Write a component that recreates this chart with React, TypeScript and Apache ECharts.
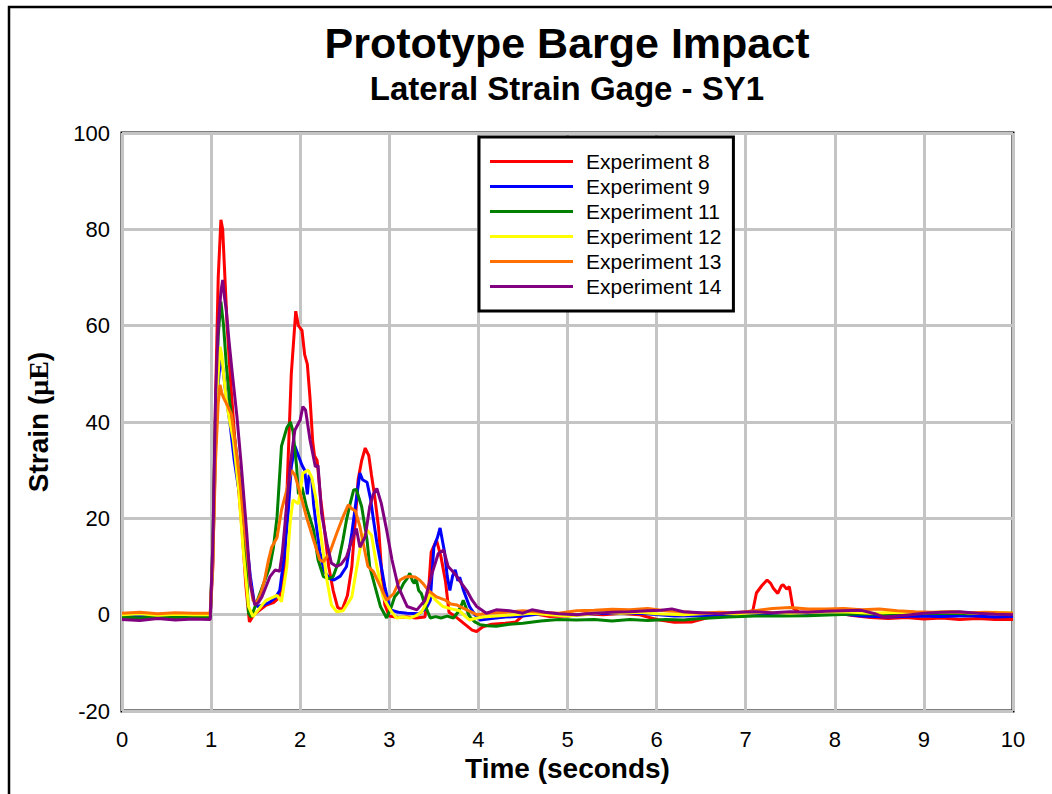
import React, { useEffect, useRef } from "react";
import * as echarts from "echarts";

const seriesNames = ["Experiment 8", "Experiment 9", "Experiment 11", "Experiment 12", "Experiment 13", "Experiment 14"];
const seriesColors = ["#FF0000", "#0000FF", "#008000", "#FFFF00", "#FF7000", "#800080"];

const exp8: number[][] = [[0,-0.3],[0.2,-0.6],[0.4,-0.2],[0.6,-0.5],[0.8,-0.3],[0.99,-0.4],[1.02,10],[1.05,45],[1.08,70],[1.11,82],[1.13,80],[1.15,72],[1.18,60],[1.22,48],[1.26,38],[1.3,28],[1.35,17],[1.39,6],[1.43,-1.5],[1.48,0],[1.55,1],[1.62,2],[1.7,2.5],[1.76,3.5],[1.82,8],[1.86,30],[1.9,50],[1.95,63],[1.98,60],[2.02,59],[2.05,54],[2.08,52],[2.11,45],[2.14,36],[2.16,33],[2.19,32],[2.23,24],[2.27,18],[2.32,10],[2.37,5],[2.42,1.5],[2.47,1],[2.53,4],[2.58,10],[2.62,20],[2.65,28],[2.69,32],[2.73,34.6],[2.77,33],[2.8,29],[2.84,24],[2.88,18],[2.91,10],[2.95,2],[3.0,-0.3],[3.1,-0.6],[3.2,-0.5],[3.3,-0.7],[3.4,-0.5],[3.44,5],[3.47,13],[3.53,15.5],[3.58,12],[3.63,7],[3.67,0.5],[3.75,-0.5],[3.85,-2],[3.93,-3.2],[3.98,-3.5],[4.05,-2.5],[4.15,-2],[4.3,-1.8],[4.42,-1.5],[4.5,-0.2],[4.6,0.3],[4.8,-0.4],[5.0,-0.3],[5.2,0.2],[5.4,0],[5.6,0.3],[5.8,0],[6.0,-1],[6.2,-1.6],[6.4,-1.5],[6.6,-0.5],[6.8,0],[7.0,0.4],[7.08,0.8],[7.12,4.5],[7.18,6],[7.24,7.2],[7.28,6.5],[7.31,5.5],[7.36,4.4],[7.4,6],[7.42,6.2],[7.46,5.3],[7.49,5.8],[7.53,1.4],[7.6,0.5],[7.8,0.6],[8.0,0.4],[8.2,-0.2],[8.4,-0.6],[8.6,-0.8],[8.8,-0.6],[9.0,-0.9],[9.2,-0.7],[9.4,-1],[9.6,-0.8],[9.8,-1],[10,-1]];

const exp9: number[][] = [[0,-0.5],[0.2,-0.3],[0.4,-0.6],[0.6,-0.4],[0.8,-0.5],[0.99,-0.4],[1.02,12],[1.05,35],[1.08,48],[1.11,54],[1.14,50],[1.17,45],[1.21,40],[1.26,32],[1.31,26],[1.36,20],[1.4,15],[1.44,8],[1.48,3],[1.52,1.7],[1.58,2],[1.65,2.5],[1.72,3.5],[1.77,5],[1.82,12],[1.86,20],[1.9,30.7],[1.94,35],[1.98,33],[2.02,31],[2.05,30],[2.08,25],[2.1,29],[2.13,28],[2.15,23],[2.17,20],[2.22,13],[2.27,9],[2.33,7.5],[2.38,7.2],[2.45,8],[2.52,10],[2.58,17],[2.63,24],[2.67,29.4],[2.7,28],[2.75,27.5],[2.79,24],[2.82,20],[2.86,15],[2.9,11],[2.95,5.8],[3.01,1],[3.1,0.5],[3.2,0.3],[3.34,0.2],[3.42,1.5],[3.46,3],[3.5,14],[3.54,16],[3.57,18],[3.6,15],[3.62,13],[3.65,8],[3.68,5],[3.71,8],[3.74,9.3],[3.77,7],[3.79,7.8],[3.83,5.2],[3.9,1.7],[3.96,0],[4.02,-1.1],[4.15,-0.8],[4.3,-0.5],[4.5,-0.3],[4.7,0.2],[5.0,-0.2],[5.3,0.2],[5.6,0.4],[5.9,0.2],[6.2,-0.3],[6.5,-0.2],[6.8,0],[7.0,0.2],[7.3,0],[7.6,0.2],[8.0,0.3],[8.3,-0.3],[8.6,-0.5],[8.9,-0.3],[9.2,-0.4],[9.5,-0.2],[9.8,-0.5],[10,-0.4]];

const exp11: number[][] = [[0,-0.5],[0.2,-0.7],[0.4,-0.4],[0.6,-0.6],[0.8,-0.4],[0.99,-0.5],[1.02,15],[1.05,42],[1.08,58],[1.11,65],[1.14,60],[1.17,52],[1.21,44],[1.26,37],[1.31,30],[1.36,25],[1.39,12],[1.42,0.3],[1.45,-0.5],[1.5,2],[1.55,4.5],[1.6,7],[1.66,10],[1.7,14],[1.74,20.3],[1.79,35],[1.85,38.8],[1.89,40],[1.92,38],[1.96,30.7],[1.98,25],[2.02,26.5],[2.07,22.4],[2.15,17.6],[2.2,11.4],[2.26,7.9],[2.32,7.5],[2.37,7.9],[2.43,11],[2.48,15.5],[2.52,19.7],[2.56,23],[2.6,25.9],[2.63,26],[2.69,22.4],[2.75,15.5],[2.78,10],[2.84,5.8],[2.9,1.7],[2.97,-0.7],[3.02,1.5],[3.06,3.7],[3.12,5],[3.16,6.5],[3.2,7.5],[3.23,8.6],[3.26,7],[3.28,6.5],[3.3,7.5],[3.33,5],[3.36,4.4],[3.4,2],[3.46,-0.7],[3.52,-0.4],[3.58,-0.7],[3.65,-0.3],[3.72,-0.7],[3.77,0.5],[3.81,2],[3.83,3],[3.87,1],[3.9,-0.4],[3.96,-1.5],[4.02,-2.1],[4.1,-2.3],[4.2,-2.4],[4.35,-2],[4.5,-1.8],[4.7,-1.3],[4.9,-1],[5.1,-1.1],[5.3,-1],[5.5,-1.3],[5.7,-1],[5.9,-1.2],[6.1,-1],[6.3,-1.1],[6.5,-0.8],[6.8,-0.5],[7.1,-0.3],[7.4,-0.3],[7.7,-0.2],[8.0,0],[8.3,0.2],[8.6,0],[8.9,0.2],[9.2,0.3],[9.5,0.2],[9.8,0.4],[10,0.3]];

const exp12: number[][] = [[0,0],[0.2,0.2],[0.4,-0.1],[0.6,0.1],[0.8,0],[0.99,0],[1.02,12],[1.05,35],[1.08,50],[1.1,55.6],[1.12,54],[1.14,50],[1.17,44.6],[1.21,40],[1.25,36.3],[1.31,25.9],[1.36,13.4],[1.42,1.7],[1.47,-0.4],[1.53,1],[1.58,2.2],[1.62,3],[1.68,3.5],[1.74,4],[1.79,2.7],[1.85,10],[1.89,19.7],[1.92,23.8],[1.98,23],[2.03,29.4],[2.09,30],[2.13,28.5],[2.18,23.8],[2.24,15.5],[2.3,7.2],[2.35,2],[2.41,0.6],[2.48,0.8],[2.54,2.5],[2.58,3.7],[2.63,9.3],[2.69,15.5],[2.75,17.6],[2.8,16.5],[2.86,10],[2.93,3.7],[3.01,1],[3.08,-0.7],[3.15,-0.5],[3.23,-0.7],[3.3,-0.2],[3.36,0.5],[3.42,2.5],[3.46,4.4],[3.52,3],[3.6,1.7],[3.7,1.2],[3.79,0.8],[3.85,-0.3],[3.9,-1.1],[3.96,-0.8],[4.05,-0.5],[4.2,-0.3],[4.4,0],[4.6,0.3],[4.8,0],[5.0,-0.3],[5.2,0],[5.4,0.5],[5.6,0.3],[5.8,0.5],[6.0,0.2],[6.3,0],[6.6,0.3],[6.9,0.2],[7.2,0.5],[7.5,0.3],[7.8,0.5],[8.1,0.6],[8.4,0.3],[8.7,0.5],[9.0,0.4],[9.3,0.6],[9.6,0.3],[9.8,0.5],[10,0.3]];

const exp13: number[][] = [[0,0.3],[0.2,0.5],[0.4,0.2],[0.6,0.4],[0.8,0.3],[0.99,0.3],[1.02,12],[1.05,32],[1.08,44],[1.1,47.7],[1.12,46],[1.14,45],[1.19,43.2],[1.23,41.5],[1.29,32.8],[1.33,26.5],[1.38,17],[1.44,6.5],[1.47,3],[1.51,2.4],[1.56,4.5],[1.6,7.2],[1.64,11],[1.68,14],[1.74,16],[1.79,21.7],[1.85,25.9],[1.9,30],[1.94,29],[2.0,25.2],[2.07,20.3],[2.15,15.5],[2.22,11.4],[2.26,11],[2.33,12.8],[2.41,16.9],[2.48,20.3],[2.54,22.8],[2.58,22],[2.62,21.5],[2.67,18.3],[2.7,15.5],[2.76,10],[2.82,9],[2.9,5.8],[2.97,3],[3.05,4.4],[3.12,7.2],[3.18,7.8],[3.23,7.9],[3.29,7.8],[3.34,7.2],[3.39,6.2],[3.44,5],[3.53,3.7],[3.63,3],[3.69,2.2],[3.76,2],[3.87,1],[3.98,0],[4.1,0.3],[4.3,0.5],[4.5,0.8],[4.7,0.5],[4.9,0.3],[5.1,0.8],[5.3,0.9],[5.5,1.1],[5.7,1],[5.9,1.3],[6.1,0.8],[6.3,0.6],[6.5,0.3],[6.7,0.5],[6.9,0.4],[7.1,0.8],[7.3,1.3],[7.5,1.5],[7.7,1.2],[7.9,1.2],[8.1,1.3],[8.3,1],[8.5,1.2],[8.7,0.8],[8.9,0.6],[9.1,0.5],[9.3,0.6],[9.5,0.4],[9.7,0.5],[10,0.3]];

const exp14: number[][] = [[0,-1],[0.2,-1.2],[0.4,-0.8],[0.6,-1.1],[0.8,-0.9],[0.99,-1],[1.02,15],[1.05,45],[1.08,60],[1.11,67],[1.13,69.5],[1.15,66],[1.17,63.3],[1.2,57],[1.23,51.5],[1.29,41.1],[1.34,30.7],[1.4,17],[1.44,6.5],[1.49,2],[1.53,2.5],[1.57,3.7],[1.62,6],[1.66,7.9],[1.72,9.3],[1.77,9],[1.8,13],[1.83,19],[1.89,31.4],[1.94,38.3],[2.0,40.4],[2.03,43.2],[2.06,42.5],[2.11,36.3],[2.17,30.7],[2.2,31],[2.24,21],[2.3,14.8],[2.35,10.7],[2.41,10],[2.46,10.5],[2.52,12],[2.58,15.5],[2.63,17.9],[2.67,14],[2.73,16.2],[2.78,22.4],[2.82,25],[2.86,26.2],[2.91,23.1],[2.97,17.6],[3.03,11.4],[3.1,5.8],[3.2,1.7],[3.31,1],[3.4,3],[3.48,8.6],[3.55,12.7],[3.61,13.4],[3.66,10],[3.71,9],[3.76,7.9],[3.81,6.5],[3.87,5],[3.93,3],[3.98,1.7],[4.09,0.3],[4.2,1],[4.35,0.8],[4.5,0.3],[4.6,1],[4.75,0.5],[4.9,0.2],[5.1,0],[5.3,0.3],[5.5,0.5],[5.7,0.6],[5.9,0.8],[6.05,0.9],[6.17,1.2],[6.3,0.6],[6.5,0.4],[6.7,0.2],[6.9,0.5],[7.1,0.6],[7.3,0.4],[7.5,0.6],[7.7,0.5],[7.9,0.7],[8.1,0.8],[8.3,0.9],[8.45,0.2],[8.55,-0.5],[8.7,-0.3],[8.85,0],[9.0,0.3],[9.2,0.5],[9.4,0.6],[9.6,0.3],[9.8,0.1],[10,0]];

const seriesData = [exp8, exp9, exp11, exp12, exp13, exp14];

const FONT = "'Liberation Sans', Arial, sans-serif";

export default function App() {
  const ref = useRef<HTMLDivElement>(null);
  useEffect(() => {
    document.body.style.margin = "0";
    if (!ref.current) return;
    const chart = echarts.init(ref.current, null, { renderer: "svg" });
    chart.setOption({
      animation: false,
      backgroundColor: "#fff",
      graphic: [
        {
          type: "rect",
          shape: { x: 9, y: 7, width: 1200, height: 1000 },
          style: { fill: "none", stroke: "#000", lineWidth: 2.5 },
          silent: true,
        },
      ],
      title: [
        {
          text: "Prototype Barge Impact",
          left: 562,
          top: 16,
          textAlign: "center",
          textStyle: { fontFamily: FONT, fontSize: 43, fontWeight: "bold", color: "#000" },
        },
        {
          text: "Lateral Strain Gage - SY1",
          left: 562,
          top: 67,
          textAlign: "center",
          textStyle: { fontFamily: FONT, fontSize: 33, fontWeight: "bold", color: "#000" },
        },
      ],
      legend: {
        orient: "vertical",
        left: 479,
        top: 137,
        padding: [14, 12, 14, 11],
        backgroundColor: "#fff",
        borderColor: "#000",
        borderWidth: 3,
        borderRadius: 0,
        icon: "rect",
        itemWidth: 83,
        itemHeight: 3,
        itemGap: 4,
        data: seriesNames,
        textStyle: { fontFamily: FONT, fontSize: 21, color: "#000", padding: [0, 0, 0, 8] },
      },
      grid: {
        left: 122,
        top: 133,
        width: 891,
        height: 578,
        show: true,
        borderColor: "#000",
        borderWidth: 3,
        backgroundColor: "transparent",
      },
      xAxis: {
        type: "value",
        min: 0,
        max: 10,
        interval: 1,
        name: "Time (seconds)",
        nameLocation: "middle",
        nameGap: 43,
        nameTextStyle: { fontFamily: FONT, fontSize: 28, fontWeight: "bold", color: "#000" },
        axisLine: { show: false },
        axisTick: { show: false },
        axisLabel: { fontFamily: FONT, fontSize: 22, color: "#000", margin: 17 },
        splitLine: { show: true, lineStyle: { color: "#C4C4C4", width: 3 } },
      },
      yAxis: {
        type: "value",
        min: -20,
        max: 100,
        interval: 20,
        name: "{a|Strain (}{g|μE}{a|)}",
        nameLocation: "middle",
        nameGap: 70,
        nameRotate: 90,
        nameTextStyle: {
          rich: {
            a: { fontFamily: FONT, fontSize: 28, fontWeight: "bold", color: "#000" },
            g: { fontFamily: "'Liberation Serif', 'Times New Roman', serif", fontSize: 28, fontWeight: "bold", color: "#000" },
          },
        },
        axisLine: { show: false },
        axisTick: { show: false },
        axisLabel: { fontFamily: FONT, fontSize: 22, color: "#000", margin: 12 },
        splitLine: { show: true, lineStyle: { color: "#C4C4C4", width: 3 } },
      },
      series: seriesNames.map((name, i) => ({
        name,
        type: "line",
        data: seriesData[i],
        showSymbol: false,
        symbol: "none",
        color: seriesColors[i],
        lineStyle: { color: seriesColors[i], width: 3 },
        z: 2 + i,
      })),
    });
    return () => chart.dispose();
  }, []);
  return <div ref={ref} style={{ width: 1052, height: 794 }} />;
}
